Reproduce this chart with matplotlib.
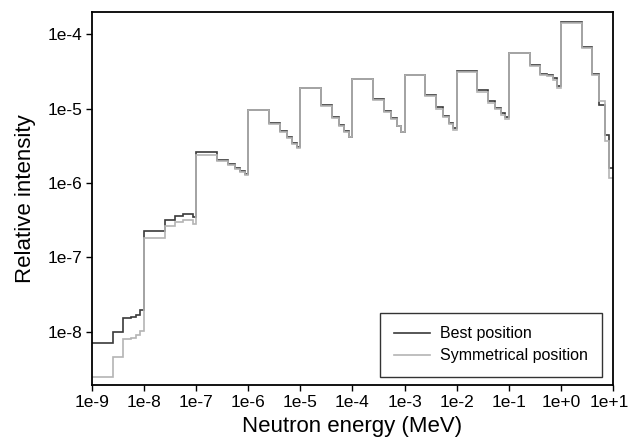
import matplotlib
matplotlib.use("Agg")
import matplotlib.pyplot as plt
import matplotlib.transforms as mtransforms
from matplotlib.ticker import FixedLocator, NullLocator

plt.rcParams['font.family'] = ['Liberation Sans', 'DejaVu Sans']

# Energy group boundaries (MeV)
energy_edges = [
    1e-9, 2.5e-9, 4e-9, 5.5e-9, 7e-9, 8.5e-9,
    1e-8, 2.5e-8, 4e-8, 5.5e-8, 7e-8, 8.5e-8,
    1e-7, 2.5e-7, 4e-7, 5.5e-7, 7e-7, 8.5e-7,
    1e-6, 2.5e-6, 4e-6, 5.5e-6, 7e-6, 8.5e-6,
    1e-5, 2.5e-5, 4e-5, 5.5e-5, 7e-5, 8.5e-5,
    1e-4, 2.5e-4, 4e-4, 5.5e-4, 7e-4, 8.5e-4,
    1e-3, 2.5e-3, 4e-3, 5.5e-3, 7e-3, 8.5e-3,
    1e-2, 2.5e-2, 4e-2, 5.5e-2, 7e-2, 8.5e-2,
    1e-1, 2.5e-1, 4e-1, 5.5e-1, 7e-1, 8.5e-1,
    1e0, 2.5e0, 4e0, 5.5e0, 7e0, 8.5e0,
    1e1,
]

best_position = [
    7.2e-9, 1.0e-8, 1.55e-8, 1.6e-8, 1.7e-8, 2.0e-8,
    2.3e-7, 3.2e-7, 3.6e-7, 3.8e-7, 3.8e-7, 3.5e-7,
    2.6e-6, 2.05e-6, 1.78e-6, 1.6e-6, 1.45e-6, 1.33e-6,
    9.6e-6, 6.3e-6, 5.0e-6, 4.1e-6, 3.4e-6, 3.0e-6,
    1.88e-5, 1.1e-5, 7.6e-6, 6.0e-6, 5.0e-6, 4.2e-6,
    2.5e-5, 1.33e-5, 9.2e-6, 7.4e-6, 5.9e-6, 4.9e-6,
    2.85e-5, 1.5e-5, 1.04e-5, 7.9e-6, 6.3e-6, 5.4e-6,
    3.15e-5, 1.75e-5, 1.27e-5, 1.01e-5, 8.6e-6, 7.6e-6,
    5.6e-5, 3.85e-5, 2.9e-5, 2.8e-5, 2.55e-5, 2.0e-5,
    1.43e-4, 6.6e-5, 2.9e-5, 1.1e-5, 4.4e-6, 1.6e-6,
]

symmetrical_position = [
    2.45e-9, 4.6e-9, 8.0e-9, 8.4e-9, 9.0e-9, 1.02e-8,
    1.85e-7, 2.65e-7, 3.0e-7, 3.2e-7, 3.15e-7, 2.8e-7,
    2.4e-6, 2.0e-6, 1.74e-6, 1.55e-6, 1.42e-6, 1.3e-6,
    9.5e-6, 6.2e-6, 4.9e-6, 4.0e-6, 3.35e-6, 2.95e-6,
    1.87e-5, 1.08e-5, 7.4e-6, 5.8e-6, 4.85e-6, 4.1e-6,
    2.5e-5, 1.3e-5, 9.0e-6, 7.2e-6, 5.8e-6, 4.8e-6,
    2.8e-5, 1.46e-5, 1.0e-5, 7.7e-6, 6.1e-6, 5.2e-6,
    3.1e-5, 1.65e-5, 1.2e-5, 9.7e-6, 8.3e-6, 7.3e-6,
    5.5e-5, 3.75e-5, 2.8e-5, 2.7e-5, 2.45e-5, 1.9e-5,
    1.41e-4, 6.4e-5, 2.8e-5, 1.25e-5, 3.7e-6, 1.17e-6,
]

x_ticks = [1e-9, 1e-8, 1e-7, 1e-6, 1e-5, 1e-4, 1e-3, 1e-2, 1e-1, 1e0, 1e1]
x_tick_labels = ["1e-9", "1e-8", "1e-7", "1e-6", "1e-5", "1e-4",
                 "1e-3", "1e-2", "1e-1", "1e+0", "1e+1"]
y_ticks = [1e-8, 1e-7, 1e-6, 1e-5, 1e-4]
y_tick_labels = ["1e-8", "1e-7", "1e-6", "1e-5", "1e-4"]

fig = plt.figure(figsize=(6.3, 4.48), dpi=100)
ax = fig.add_axes([0.146, 0.141, 0.827, 0.832])

ax.stairs(best_position, energy_edges, color="#3a3a3a", linewidth=1.2,
          label="Best position", baseline=None)
ax.stairs(symmetrical_position, energy_edges, color="#b4b4b4", linewidth=1.2,
          label="Symmetrical position", baseline=None)

ax.set_xscale("log")
ax.set_yscale("log")
ax.set_xlim(1e-9, 1e1)
ax.set_ylim(1.95e-9, 1.97e-4)

ax.xaxis.set_major_locator(FixedLocator(x_ticks))
ax.xaxis.set_minor_locator(NullLocator())
ax.set_xticklabels(x_tick_labels)
ax.yaxis.set_major_locator(FixedLocator(y_ticks))
ax.yaxis.set_minor_locator(NullLocator())
ax.set_yticklabels(y_tick_labels)

ax.tick_params(axis="both", direction="out", length=4, width=1, labelsize=12.5,
               colors="black", pad=3)
for sp in ax.spines.values():
    sp.set_linewidth(1.3)
    sp.set_color("black")

# nudge the last x tick label slightly left so it stays inside the figure
last_lbl = ax.get_xticklabels()[-1]
last_lbl.set_transform(last_lbl.get_transform() +
                       mtransforms.ScaledTranslation(-4 / 100, 0, fig.dpi_scale_trans))

ax.set_xlabel("Neutron energy (MeV)", fontsize=16, labelpad=5)
ax.set_ylabel("Relative intensity", fontsize=16, labelpad=8)

leg = ax.legend(loc="lower right", bbox_to_anchor=(0.978, 0.021), fontsize=11.5,
                frameon=True, fancybox=False, edgecolor="black",
                handlelength=2.3, handletextpad=0.6, borderpad=0.85,
                labelspacing=0.45, borderaxespad=0.0)
leg.get_frame().set_linewidth(1.0)

fig.savefig("out.png", dpi=100)
